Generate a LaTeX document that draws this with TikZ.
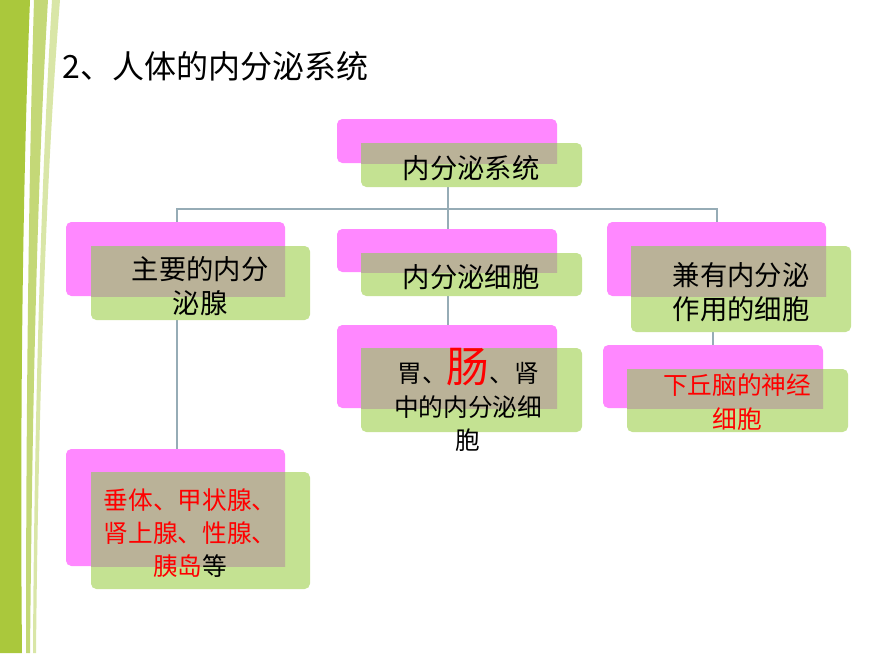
\documentclass[tikz,border=0pt]{standalone}
\usepackage{fontspec}
\newfontfamily\cjk{Noto Sans CJK SC}
\definecolor{pinkbox}{RGB}{255,136,255}
\definecolor{greenbox}{RGB}{196,226,146}
\definecolor{overlap}{RGB}{186,178,152}
\definecolor{linkc}{RGB}{150,172,182}
\definecolor{stripe}{RGB}{170,200,60}
\tikzset{
  pinkb/.style={fill=pinkbox, rounded corners=4pt},
  greenb/.style={fill=greenbox, rounded corners=4pt},
  boxtext/.style={font=\cjk\fontsize{20.5}{25}\selectfont, align=center},
  smalltext/.style={boxtext, font=\cjk\fontsize{18.5}{25}\selectfont},
  link/.style={draw=linkc, line width=1pt}
}
% pink box, green box, overlap
\newcommand{\pairbox}[5]{%
  \fill[pinkb] #1 rectangle #2;
  \fill[greenb] #3 rectangle #4;
  \begin{scope}\clip #1 rectangle #2; \fill[overlap] #3 rectangle #4; \end{scope}
  \coordinate (#5) at #1;}
\begin{document}
\begin{tikzpicture}[x=0.75pt, y=-0.75pt]
\useasboundingbox (0,0) rectangle (870,653);

% left decoration
\fill[stripe] (0,0) -- (30,0) .. controls (22,200) and (20,450) .. (22,653) -- (0,653) -- cycle;
\fill[stripe!70] (34,0) -- (48,0) .. controls (36,200) and (32,450) .. (30,653) -- (26,653) .. controls (26,450) and (28,200) .. (34,0);
\fill[stripe!45] (52,0) -- (60,0) .. controls (44,200) and (38,450) .. (36,653) -- (33,653) .. controls (34,450) and (40,200) .. (52,0);

\node[anchor=west, font=\cjk\fontsize{24}{28}\selectfont] (title) at (58,66) {2、人体的内分泌系统};

% connectors
\coordinate (hub) at (448,209);
\draw[link] (448,187) -- (hub);
\draw[link] (177,222) |- (717,209) -- (717,222);
\draw[link] (448,209) -- (448,229);
\draw[link] (177,320) -- (177,449);
\draw[link] (448,296) -- (448,325);
\draw[link] (713,332) -- (713,345);

\pairbox{(337,119)}{(557,163)}{(361,143)}{(582,187)}{top}
\pairbox{(66,222)}{(285,296)}{(91,246)}{(310,320)}{main}
\pairbox{(337,229)}{(557,272)}{(361,253)}{(582,296)}{cell}
\pairbox{(607,222)}{(826,296)}{(631,246)}{(851,332)}{dual}
\pairbox{(337,325)}{(557,408)}{(361,348)}{(582,432)}{gut}
\pairbox{(603,345)}{(823,408)}{(627,369)}{(848,432)}{hypo}
\pairbox{(66,449)}{(285,566)}{(91,472)}{(310,589)}{gland}

\node[boxtext] (ttop) at (471,168) {内分泌系统};
\node[boxtext] (tmain) at (200,286) {主要的内分\\泌腺};
\node[boxtext] (tcell) at (471,277) {内分泌细胞};
\node[boxtext] (tdual) at (741,292) {兼有内分泌\\作用的细胞};
\node[smalltext] (tgut) at (468,400) {胃、{\color{red}\fontsize{32}{32}\selectfont 肠}、肾\\中的内分泌细\\胞};
\node[smalltext, text=red] (thypo) at (737,402) {下丘脑的神经\\细胞};
\node[smalltext, text=red] (tgland) at (190,533) {垂体、甲状腺、\\肾上腺、性腺、\\胰岛{\color{black}等}};
\end{tikzpicture}
\end{document}
